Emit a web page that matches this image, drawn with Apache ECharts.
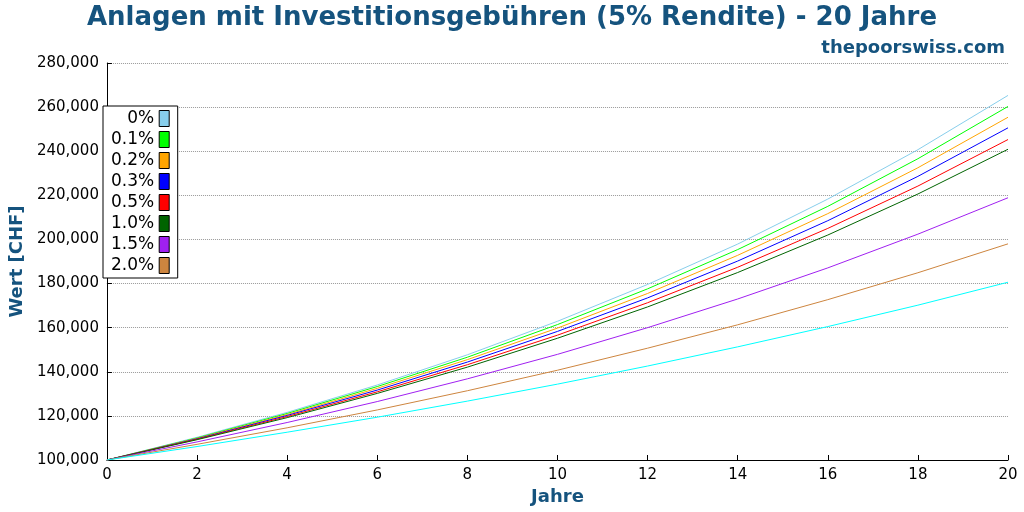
<!DOCTYPE html>
<html lang="de">
<head>
<meta charset="UTF-8">
<title>Anlagen mit Investitionsgebühren</title>
<script src="https://cdn.jsdelivr.net/npm/echarts@6/dist/echarts.min.js"></script>
</head>
<body style="margin:0">
<div id="chart" style="width:1024px;height:512px"></div>
<script>
var years = [0, 2, 4, 6, 8, 10, 12, 14, 16, 18, 20];
var names = ['0%', '0.1%', '0.2%', '0.3%', '0.5%', '1.0%', '1.5%', '2.0%', '3.0%'];
var colors = ['#87ceeb', '#00ff00', '#ffa500', '#0000ff', '#ff0000', '#006400', '#a020f0', '#cd853f', '#00ffff'];
var v0 = [100000, 110300, 121600, 134000, 147700, 162900, 179600, 197900, 218300, 240700, 265300];
var v01 = [100000, 110000, 121100, 133300, 146600, 161400, 177600, 195400, 215000, 236600, 260300];
var v02 = [100000, 109800, 120600, 132500, 145500, 159800, 175500, 192800, 211700, 232500, 255400];
var v03 = [100000, 109600, 120200, 131700, 144400, 158300, 173500, 190200, 208500, 228600, 250600];
var v05 = [100000, 109400, 119700, 130900, 143200, 156600, 171300, 187400, 205000, 224200, 245300];
var v10 = [100000, 109200, 119200, 130200, 142100, 155200, 169400, 185000, 202000, 220600, 240900];
var v15 = [100000, 108200, 117000, 126500, 136800, 147900, 160000, 173000, 187100, 202400, 218900];
var v20 = [100000, 107100, 114600, 122700, 131400, 140700, 150700, 161300, 172700, 184900, 198000];
var v30 = [100000, 106100, 112600, 119400, 126700, 134400, 142600, 151300, 160500, 170200, 180600];
var values = [v0, v01, v02, v03, v05, v10, v15, v20, v30];

var blue = '#15537e';
var series = names.map(function (n, i) {
    return {
        name: n, type: 'line', showSymbol: false, color: colors[i],
        lineStyle: {width: 1},
        data: years.map(function (y, j) { return [y, values[i][j]]; })
    };
});

var myChart = echarts.init(document.getElementById('chart'));
myChart.setOption({
    animation: false,
    textStyle: {fontFamily: 'DejaVu Sans'},
    title: [
        {text: 'Anlagen mit Investitionsgebühren (5% Rendite) - 20 Jahre', left: 'center', top: 0,
         textStyle: {fontSize: 26, fontWeight: 'bold', color: blue}},
        {text: 'thepoorswiss.com', right: 14, top: 34, textStyle: {fontSize: 18, fontWeight: 'bold', color: blue}}
    ],
    grid: {left: 98, right: 16, top: 63, bottom: 52},
    legend: {
        data: names.slice(0, 8), orient: 'vertical', left: 103, top: 106, align: 'right',
        itemWidth: 10, itemHeight: 16, itemGap: 4, icon: 'rect',
        backgroundColor: '#fff', borderColor: '#000', borderWidth: 1, padding: [4, 8, 4, 8],
        textStyle: {fontSize: 17, color: '#000'},
        itemStyle: {borderColor: '#000', borderWidth: 1}
    },
    xAxis: {
        type: 'value', min: 0, max: 20, interval: 2,
        name: 'Jahre', nameLocation: 'middle', nameGap: 28,
        nameTextStyle: {fontSize: 18, fontWeight: 'bold', color: blue},
        axisLine: {lineStyle: {color: '#000'}}, axisTick: {inside: true, lineStyle: {color: '#000'}},
        axisLabel: {fontSize: 15, color: '#000'}, splitLine: {show: false}
    },
    yAxis: {
        type: 'value', min: 100000, max: 280000, interval: 20000,
        name: 'Wert [CHF]', nameLocation: 'middle', nameGap: 78,
        nameTextStyle: {fontSize: 18, fontWeight: 'bold', color: blue},
        axisLine: {show: true, lineStyle: {color: '#000'}}, axisTick: {inside: true, lineStyle: {color: '#000'}},
        axisLabel: {fontSize: 15, color: '#000'},
        splitLine: {lineStyle: {type: 'dotted', color: '#999'}}
    },
    series: series
});
</script>
</body>
</html>
